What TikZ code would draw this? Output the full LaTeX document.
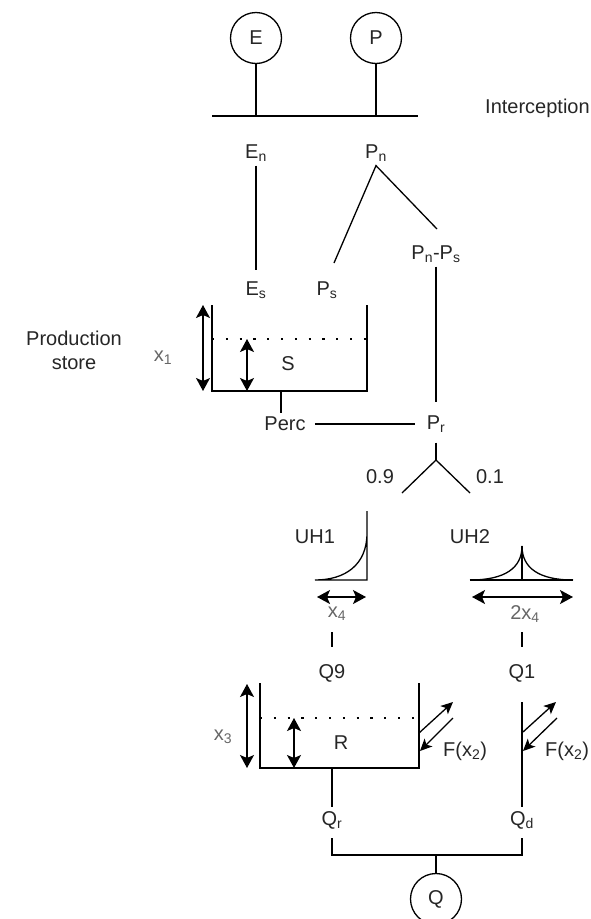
\documentclass[tikz,border=0pt]{standalone}
\usepackage{fontspec}
\setmainfont{Liberation Sans}
\usetikzlibrary{arrows.meta}
\tikzstyle{lbl} = [inner sep=4pt, text=black!85, font=\fontsize{20}{24}\selectfont]
\tikzstyle{parlbl} = [lbl, text=black!60]
\tikzstyle{flux} = [circle, draw=black, line width=1.3pt, minimum size=51pt, inner sep=0pt, text=black!85, font=\fontsize{20}{24}\selectfont]
\tikzstyle{wall} = [line width=1.3pt]
\tikzstyle{waterline} = [line width=2.2pt, dash pattern=on 2.2pt off 11.6pt]
\tikzstyle{arrow} = [line width=1.3pt, <->, >={Stealth[length=13pt,width=14pt,inset=3pt]}]
\tikzstyle{exch} = [line width=1.3pt, ->, >={Stealth[length=12pt,width=11pt,inset=3pt]}]

\begin{document}
\begin{tikzpicture}[x=1pt, y=-1pt]
  \useasboundingbox (0,0) rectangle (590,919);
  \clip (0,0) rectangle (590,919);
  \node (E)[flux] at (256,38){E};
  \node (P)[flux] at (376,38){P};
  \coordinate (barL) at (212,116);
  \coordinate (barR) at (418,116);
  \draw [wall] {(barL)--(barR)};
  \draw [wall] {(E)--(E |- barL)};
  \draw [wall] {(P)--(P |- barL)};
  \node (icpt)[lbl, anchor=west] at (481,108){Interception};
  \node (En)[lbl] at (256,153){E\textsubscript{n}};
  \node (Pn)[lbl] at (376,153){P\textsubscript{n}};
  \node (Es)[lbl] at (256,290){E\textsubscript{s}};
  \node (Ps)[lbl] at (327,290){P\textsubscript{s}};
  \node (PnPs)[lbl] at (436,254){P\textsubscript{n}-P\textsubscript{s}};
  \coordinate (PsIn) at (334,263);
  \coordinate (PnPsIn) at (437,229);
  \draw [wall, shorten >=7pt] {(En)--(Es)};
  \draw [wall] {(PsIn)--(Pn.south)--(PnPsIn)};

  \draw [wall] (212,305) -- (212,391) -- (367,391) -- (367,305);
  \draw [waterline] (212,339) -- (367,339);
  \draw [arrow] (203,305) -- (203,391);
  \draw [arrow] (247,339) -- (247,391);
  \node (S)[lbl] at (288,364){S};
  \node (x1)[parlbl] at (163,358){x\textsubscript{1}};
  \node (prod)[lbl, align=center] at (74,350){Production\\store};

  \coordinate (Sout) at (281,391);
  \node (Perc)[lbl] at (285,424){Perc};
  \node (Pr)[lbl] at (436,424){P\textsubscript{r}};
  \draw [wall] {(Sout)--(Sout |- Perc.north)};
  \draw [wall, shorten <=5pt, shorten >=8pt] {(Perc)--(Perc -| Pr.west)};
  \draw [wall, shorten >=9pt] {(PnPs)--(PnPs |- Pr.north)};
  \coordinate (PrSplit) at (436,460);
  \coordinate (UHoneIn) at (402,493);
  \coordinate (UHtwoIn) at (470,493);
  \draw [wall, shorten <=6pt] {(Pr)--(PrSplit)};
  \draw [wall] {(UHoneIn)--(PrSplit)--(UHtwoIn)};
  \node (r9)[lbl] at (380,477){0.9};
  \node (r1)[lbl] at (490,477){0.1};

  \node (UHone)[lbl] at (315,537){UH1};
  \draw [wall] (367,511) -- (367,580) -- (315,580) .. controls (345,580) and (367,565) .. (367,533);
  \node (UHtwo)[lbl] at (470,537){UH2};
  \draw [wall] (470,580) -- (573,580);
  \draw [wall] (522,546) -- (522,580);
  \draw [wall] (470,580) .. controls (505,580) and (522,568) .. (522,546) .. controls (522,568) and (539,580) .. (573,580);
  \draw [arrow] (317,597) -- (366,597);
  \draw [arrow] (472,597) -- (573,597);
  \node (x4)[parlbl] at (337,614){x\textsubscript{4}};
  \node (twox4)[parlbl] at (525,614){2x\textsubscript{4}};

  \coordinate (UHoneOut) at (332,632);
  \coordinate (UHtwoOut) at (522,632);
  \node (Qnine)[lbl] at (332,673){Q9};
  \node (Qone)[lbl] at (522,673){Q1};
  \draw [wall, shorten >=13pt] {(UHoneOut)--(Qnine)};
  \draw [wall, shorten >=13pt] {(UHtwoOut)--(Qone)};

  \draw [wall] (260,683) -- (260,768) -- (419,768) -- (419,683);
  \draw [waterline] (260,718) -- (419,718);
  \draw [arrow] (247,684) -- (247,768);
  \draw [arrow] (294,718) -- (294,768);
  \node (x3)[parlbl] at (223,737){x\textsubscript{3}};
  \node (R)[lbl] at (341,743){R};
  \draw [exch] (419,733) -- (453,702);
  \draw [exch] (453,718) -- (420,751);
  \node (Fr)[lbl, anchor=west] at (439,751){F(x\textsubscript{2})};

  \node (Qr)[lbl] at (332,820){Q\textsubscript{r}};
  \node (Qd)[lbl] at (522,820){Q\textsubscript{d}};
  \draw [wall, shorten <=16pt] {(Qone)--(Qd)};
  \draw [exch] (523,732) -- (556,702);
  \draw [exch] (557,718) -- (523,751);
  \node (Fd)[lbl, anchor=west] at (541,751){F(x\textsubscript{2})};

  \coordinate (Rout) at (332,768);
  \draw [wall] {(Rout)--(Qr)};
  \coordinate (Qjoin) at (436,855);
  \node (Q)[flux] at (436,899){Q};
  \draw [wall, shorten <=5pt, shorten >=5pt] {(Qr)|-(Qjoin)-|(Qd)};
  \draw [wall] {(Qjoin)--(Q)};
\end{tikzpicture}
\end{document}
